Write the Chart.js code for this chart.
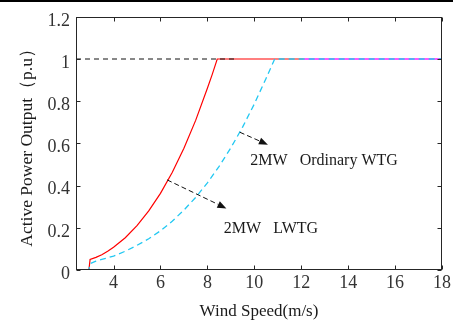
<!DOCTYPE html>
<html>
<head>
<meta charset="utf-8">
<script src="https://cdn.jsdelivr.net/npm/chart.js@4/dist/chart.umd.min.js"></script>
<style>
  html, body { margin: 0; padding: 0; background: #fff; }
  #wrap { position: relative; width: 453px; height: 322px; }
  #topbar { position: absolute; left: 0; top: 0; width: 453px; height: 2px; background: #000; }
</style>
</head>
<body>
<div id="wrap">
  <canvas id="chart" width="453" height="322"></canvas>
  <div id="topbar"></div>
</div>
<script>
// wind speed (m/s) / active power (p.u) ------------------------------
const lwtgSpeed = [2.4, 2.95, 3.0, 3.25, 3.5, 3.75, 4, 4.5, 5, 5.5, 6, 6.5, 7, 7.5, 8, 8.2, 8.42, 12.1]
const lwtgPower = [0, 0, 0.05, 0.06, 0.072, 0.089, 0.108, 0.153, 0.21, 0.28, 0.363, 0.462, 0.577, 0.709, 0.861, 0.925, 1, 1]

const ordSpeed = [2.4, 2.95, 3.0, 3.25, 3.5, 4, 4.5, 5, 5.5, 6, 6.5, 7, 7.5, 8, 8.5, 9, 9.5, 10, 10.5, 10.87, 18]
const ordPower = [0, 0, 0.03, 0.042, 0.05, 0.066, 0.089, 0.117, 0.148, 0.186, 0.231, 0.284, 0.344, 0.413, 0.491, 0.579, 0.677, 0.787, 0.908, 1, 1]

const ratedSpeed = [2.4, 9.2]
const ratedPower = [1, 1]

const tailSpeed = [12.1, 18]
const tailPower = [1, 1]

const windTicks = [4, 6, 8, 10, 12, 14, 16, 18]
const powerTicks = [0, 0.2, 0.4, 0.6, 0.8, 1, 1.2]

const notes = [
    { text: '2MW   Ordinary WTG', from: [9.38, 0.653], to: [10.58, 0.594], at: [9.83, 0.50] },
    { text: '2MW   LWTG', from: [6.285, 0.427], to: [8.81, 0.292], at: [8.70, 0.176] }
]

const serif = "'Liberation Serif', 'Times New Roman', serif"

function points(xs, ys) {
    return xs.map((v, i) => ({ x: v, y: ys[i] }))
}

// box, inward ticks and arrow notes
const frame = {
    id: 'frame',
    afterDatasetsDraw(chart) {
        const { ctx, chartArea: a, scales: { x, y } } = chart
        ctx.save()
        ctx.strokeStyle = '#262626'
        ctx.lineWidth = 1
        const l = Math.round(a.left) + 0.5, r = Math.round(a.right) - 0.5
        const t = Math.round(a.top) + 0.5, b = Math.round(a.bottom) - 0.5
        ctx.strokeRect(l, t, r - l, b - t)

        ctx.beginPath()
        windTicks.forEach(v => {
            const px = Math.round(x.getPixelForValue(v)) + 0.5
            ctx.moveTo(px, b); ctx.lineTo(px, b - 4)
            ctx.moveTo(px, t); ctx.lineTo(px, t + 4)
        })
        powerTicks.forEach(v => {
            const py = Math.round(y.getPixelForValue(v)) + 0.5
            ctx.moveTo(l, py); ctx.lineTo(l + 4, py)
            ctx.moveTo(r, py); ctx.lineTo(r - 4, py)
        })
        ctx.stroke()

        notes.forEach(n => {
            const x0 = x.getPixelForValue(n.from[0]), y0 = y.getPixelForValue(n.from[1])
            const x1 = x.getPixelForValue(n.to[0]), y1 = y.getPixelForValue(n.to[1])
            const ang = Math.atan2(y1 - y0, x1 - x0)
            const head = 9
            ctx.strokeStyle = '#111'
            ctx.setLineDash([5, 3])
            ctx.beginPath()
            ctx.moveTo(x0, y0)
            ctx.lineTo(x1 - head * Math.cos(ang), y1 - head * Math.sin(ang))
            ctx.stroke()
            ctx.setLineDash([])
            ctx.fillStyle = '#111'
            ctx.beginPath()
            ctx.moveTo(x1, y1)
            ctx.lineTo(x1 - head * Math.cos(ang) + 3.5 * Math.sin(ang), y1 - head * Math.sin(ang) - 3.5 * Math.cos(ang))
            ctx.lineTo(x1 - head * Math.cos(ang) - 3.5 * Math.sin(ang), y1 - head * Math.sin(ang) + 3.5 * Math.cos(ang))
            ctx.closePath()
            ctx.fill()

            ctx.font = '16px ' + serif
            ctx.fillStyle = '#1a1a1a'
            ctx.textBaseline = 'alphabetic'
            ctx.textAlign = 'left'
            ctx.fillText(n.text, x.getPixelForValue(n.at[0]), y.getPixelForValue(n.at[1]))
        })
        ctx.restore()
    }
}

const ctx = document.getElementById('chart').getContext('2d')
const chart = new Chart(ctx, {
    type: 'line',
    data: {
        datasets: [
            {
                label: '2MW Ordinary WTG',
                data: points(ordSpeed, ordPower),
                borderColor: '#22c8f2',
                borderWidth: 1.3,
                borderDash: [6, 4],
                order: 1
            },
            {
                label: 'rated',
                data: points(ratedSpeed, ratedPower),
                borderColor: '#111',
                borderWidth: 1,
                borderDash: [5, 4],
                order: 2
            },
            {
                label: '2MW LWTG',
                data: points(lwtgSpeed, lwtgPower),
                borderColor: '#ff0000',
                borderWidth: 1.2,
                order: 3
            },
            {
                label: 'tail',
                data: points(tailSpeed, tailPower),
                borderColor: '#ff22ff',
                borderWidth: 1.3,
                order: 4
            }
        ]
    },
    options: {
        responsive: false,
        animation: false,
        events: [],
        layout: { padding: { top: 12, right: 10, left: 0, bottom: 0 } },
        elements: { point: { radius: 0 }, line: { tension: 0 } },
        plugins: { legend: { display: false }, tooltip: { enabled: false } },
        scales: {
            x: {
                type: 'linear',
                min: 2.4,
                max: 18,
                afterBuildTicks: s => { s.ticks = windTicks.map(v => ({ value: v })) },
                afterFit: s => { s.height = 52 },
                grid: { display: false, drawTicks: false },
                border: { display: false },
                ticks: {
                    padding: 2,
                    maxRotation: 0,
                    color: '#333',
                    font: { family: serif, size: 18 }
                },
                title: {
                    display: true,
                    text: 'Wind Speed(m/s)',
                    color: '#1a1a1a',
                    font: { family: serif, size: 17 },
                    padding: { top: 0, bottom: 0 }
                }
            },
            y: {
                min: 0,
                max: 1.2,
                afterBuildTicks: s => { s.ticks = powerTicks.map(v => ({ value: v })) },
                afterFit: s => { s.width = 76 },
                grid: { display: false, drawTicks: false },
                border: { display: false },
                ticks: {
                    padding: 6,
                    labelOffset: 4,
                    color: '#333',
                    font: { family: serif, size: 18 },
                    callback: v => String(Math.round(v * 10) / 10)
                },
                title: {
                    display: true,
                    text: 'Active Power Output（p.u）',
                    color: '#1a1a1a',
                    font: { family: serif, size: 17.5 },
                    padding: { top: 17, bottom: 0 }
                }
            }
        }
    },
    plugins: [frame]
})
</script>
</body>
</html>
